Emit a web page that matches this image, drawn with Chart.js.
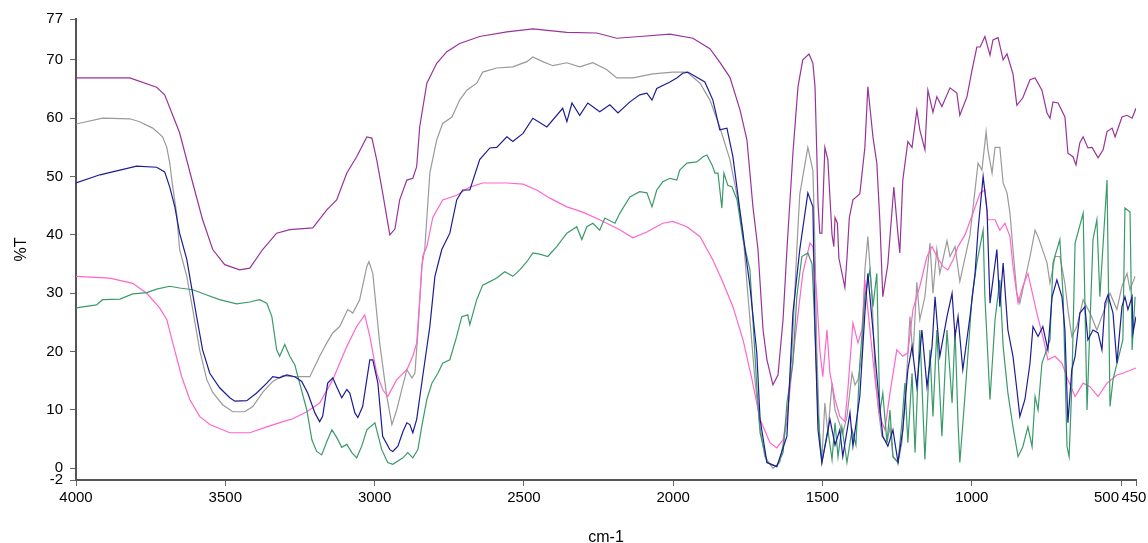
<!DOCTYPE html>
<html>
<head>
<meta charset="utf-8">
<title>IR spectra</title>
<script src="https://cdn.jsdelivr.net/npm/chart.js@4.4.1/dist/chart.umd.min.js"></script>
<style>
  html, body { margin: 0; padding: 0; background: #fff; }
  #wrap { width: 1148px; height: 543px; }
</style>
</head>
<body>
<div id="wrap"><canvas id="chart" width="1148" height="543"></canvas></div>
<script>
// tick labels
const xTicks = [4000, 3500, 3000, 2500, 2000, 1500, 1000, 500, 450];
const yTicks = [-2, 0, 10, 20, 30, 40, 50, 60, 70, 77];

// purple spectrum (wavenumber, %T)
const purpleWn = [4000,3820,3730,3703,3653,3609,3576,3542,3502,3452,3418,3375,3328,3284,3207,3160,3127,3093,3060,3026,3009,2993,2973,2949,2932,2916,2892,2872,2859,2849,2825,2792,2758,2715,2648,2557,2470,2356,2256,2189,2112,2011,1934,1877,1844,1810,1776,1753,1733,1716,1699,1686,1666,1649,1632,1619,1599,1582,1566,1545,1532,1525,1519,1515,1509,1502,1492,1482,1468,1462,1458,1450,1445,1425,1418,1410,1398,1375,1358,1348,1331,1318,1308,1298,1281,1261,1247,1241,1231,1214,1200,1184,1174,1157,1147,1130,1117,1100,1073,1050,1040,1016,999,983,972,956,939,929,912,895,882,862,849,829,805,788,765,748,738,728,711,688,678,661,651,638,627,611,597,577,560,547,530,520,497,480,463,450];
const purpleT = [66.9,66.9,65.3,64,57.5,48.9,42.6,37.5,34.9,34,34.3,37.5,40.3,40.9,41.2,44.3,46,50.6,53.4,56.8,56.6,52.9,47.2,40,41,46,49.4,49.7,51.7,58.5,66,69.4,71.4,72.8,74,74.8,75.3,74.7,74.6,73.7,74,74.4,73.7,71.9,69.6,67,61.4,56.3,44.9,37.5,23.7,18.6,14.3,16,25.5,37.5,54,65.4,70,71,69.4,65.4,54,45.4,40.3,40.3,55,52.9,40,38,43,42,36,31,36,43,46,47,55,65.4,56.8,52.3,42.6,29.4,35,48.2,40,36.9,49.4,56,55,61.4,58,54.6,64.8,61,63.7,62,65.2,64.3,60.5,63.7,68.3,72.2,72.2,74,70.8,73.4,73.8,70,71,67.6,62.2,63.5,66.6,66.9,64.8,60.9,60,62.8,62.6,60.2,54,53.4,52,55.8,56.8,54.9,55,53.2,54.6,57.7,58.3,56.8,60.2,60.5,60,61.7];

// gray spectrum
const grayWn = [4000,3911,3820,3787,3743,3710,3696,3686,3676,3663,3653,3629,3609,3586,3562,3542,3509,3475,3435,3408,3375,3341,3307,3274,3217,3184,3160,3140,3117,3090,3073,3050,3026,3019,3006,2983,2959,2942,2926,2909,2892,2875,2865,2855,2842,2832,2815,2792,2772,2741,2715,2691,2658,2638,2591,2537,2490,2470,2437,2403,2356,2313,2269,2222,2189,2135,2068,2001,1954,1910,1877,1844,1810,1783,1766,1753,1743,1726,1709,1693,1666,1643,1619,1602,1586,1576,1549,1532,1525,1519,1509,1502,1492,1482,1468,1458,1432,1418,1401,1391,1381,1368,1358,1348,1334,1324,1314,1301,1284,1274,1264,1247,1234,1217,1207,1197,1184,1174,1157,1140,1130,1117,1107,1083,1073,1056,1040,1006,979,966,952,946,932,922,906,895,882,872,862,849,839,805,788,778,748,738,721,705,688,678,665,648,627,604,581,560,537,514,497,480,470,453];
const grayT = [59,60,59.9,59.4,58.3,56.8,55,52.3,48.2,43.7,37.5,32.9,27.2,20.3,15.2,13,10.9,9.7,9.7,10.6,13,14.9,15.9,15.7,15.7,19.2,21.5,23.2,24.3,27.2,26.6,28.9,34.6,35.4,33.4,21.5,12.3,7.5,10,13.5,16.9,15.5,16.3,23.2,34.6,37.5,50.6,56.3,59.1,60.2,63.1,64.8,66,67.9,68.6,68.8,69.7,70.5,69.7,69,69.5,68.8,69.5,68.3,66.9,66.9,67.6,67.9,67.9,66,63.1,58.5,52.9,46,40.3,31.7,25.5,15,7,2,0,1,8,20,37.5,47,55,51,37.5,20.3,4.4,1.5,11.2,6.1,14.6,10,6,8.9,16.3,14.3,15.2,19.2,34,39.7,29.4,16.3,10.6,5.5,4.4,7.1,2,1,4.4,17,26,19.2,31.9,25.5,29.4,38.6,30,37.5,33.4,39,36.3,38,32,40,52.3,51.1,57.7,54.6,50.6,55,55,48.9,47.2,43.7,37.5,30,28.3,36.3,40.8,39.7,35.2,31.7,36.3,36.3,31.7,27.2,22.6,24.3,28.9,26.6,23.7,26.6,30,27.2,31.2,33.4,30.6,32.9];

// navy spectrum
const blueWn = [4000,3920,3853,3797,3730,3703,3686,3669,3653,3629,3596,3576,3552,3519,3485,3468,3428,3395,3361,3341,3318,3294,3267,3244,3224,3200,3184,3174,3157,3140,3127,3110,3093,3083,3066,3056,3040,3016,3006,2989,2973,2949,2939,2922,2905,2892,2882,2872,2859,2839,2815,2798,2775,2748,2725,2705,2681,2648,2614,2591,2557,2537,2503,2470,2423,2370,2356,2339,2313,2286,2246,2212,2185,2145,2112,2088,2071,2055,2011,1988,1968,1951,1921,1894,1867,1844,1820,1800,1776,1743,1720,1709,1686,1653,1619,1599,1576,1549,1532,1525,1515,1502,1485,1475,1458,1442,1432,1408,1398,1375,1358,1348,1331,1314,1298,1281,1264,1247,1231,1214,1200,1184,1167,1150,1133,1123,1107,1083,1066,1056,1046,1030,1006,989,979,962,949,939,916,906,895,879,862,849,839,822,805,795,778,762,745,731,715,698,688,678,665,654,638,621,611,594,577,564,554,544,527,514,497,487,477,463,460,450];
const blueT = [48.9,50.3,51.1,51.8,51.6,50.8,48.2,44.8,40.3,35.8,26,20.3,16.3,13.8,12.1,11.5,11.6,12.9,14.6,15.7,15.5,16,15.7,14.9,12.9,9.5,8,8.9,14.6,15.5,14,12.1,13.5,12.9,9.5,8.7,10.6,18.6,18.6,14.6,5.5,3.2,2.9,3.8,6.3,7.8,7.5,6.1,8.4,15.7,24.3,32.9,37.5,40.3,46,47.7,47.7,52.9,54.9,55,56.8,56,57.4,60,58.5,61.7,59.4,62.6,60.5,62.6,61.1,62.3,60.9,62.8,64,64.3,63.1,65.1,66.2,66.9,67.7,67.9,67,66.2,63.1,58,58.3,53.4,44,31.2,19.8,8.4,1,0.3,5.5,26.6,37.5,47.2,44.8,23.7,6.6,1,5.5,8.4,4,6.6,2,9.5,3.8,12.3,26.6,33.4,23.7,13.5,5.5,3.8,6.6,1,6.6,16.9,20.9,14,23.7,14,20.9,29.4,19.2,26,30,22.6,26,16.9,26,33.4,40.8,50,44.3,28.3,37.5,27.7,35.2,23.7,19.2,13.5,8.9,11.8,18,24.3,22.6,24.3,20.3,29.4,32.3,29.4,23.7,7.8,16.9,19.2,26.6,27.7,22,23.7,23.2,20.3,28.3,29.7,26.6,18,27.7,29.4,27.2,29.4,23.2,26];

// pink spectrum
const pinkWn = [4000,3887,3810,3763,3720,3696,3676,3646,3619,3586,3552,3485,3418,3361,3307,3274,3227,3184,3140,3093,3060,3033,3016,2993,2973,2956,2926,2892,2872,2859,2849,2839,2825,2805,2772,2725,2681,2638,2557,2503,2457,2413,2356,2303,2246,2179,2135,2088,2035,2001,1954,1910,1867,1837,1800,1766,1736,1709,1676,1653,1632,1616,1592,1566,1542,1532,1519,1509,1499,1485,1475,1458,1442,1425,1415,1398,1381,1368,1358,1341,1324,1308,1291,1274,1251,1231,1214,1197,1174,1150,1133,1117,1097,1080,1063,1046,1023,996,972,956,946,922,906,889,872,862,845,829,812,782,762,745,721,698,678,654,627,604,577,547,514,494,450];
const pinkT = [32.9,32.6,31.7,30,27.5,25.5,21.5,15.7,11.8,8.9,7.5,6.1,6.1,7.1,8,8.5,9.7,11.2,15.2,20.9,24.3,26.3,22.6,16.3,13.5,12.3,15.2,16.9,19.2,21.5,28.9,36.3,38,43,46,46.8,48.2,48.9,48.9,48.7,47.7,46.3,44.8,43.9,42.6,40.9,39.5,40.5,42,42.3,41.4,39.7,35.7,32.3,27.7,22,15.2,8.4,4.4,3.5,4.9,10,22,33.4,38.6,38,29.4,20.3,15.7,23.7,16.3,11.8,8.9,8,13.5,24.9,21.5,23.7,32.3,23.7,15.2,8.9,6.6,12.9,20.3,19.2,19.8,27.2,31.2,36.3,38,36.3,34.6,34,35.7,38,40,43.7,47.2,47.7,42.6,42.6,40.8,42,39.7,34.6,28.3,31.2,33.4,26.6,22.6,18.6,19.2,18,15.2,12.3,14.6,14,12.3,14.6,16,16.3,17.2];

// green spectrum
const greenWn = [4000,3931,3911,3853,3810,3763,3730,3686,3653,3609,3562,3519,3462,3418,3385,3361,3344,3328,3318,3301,3284,3267,3251,3227,3210,3194,3177,3160,3143,3127,3110,3093,3076,3060,3043,3026,2999,2976,2956,2939,2905,2889,2872,2855,2842,2825,2808,2788,2772,2748,2725,2708,2688,2681,2658,2638,2614,2591,2564,2537,2514,2490,2470,2447,2420,2390,2356,2323,2306,2289,2269,2246,2229,2195,2179,2145,2112,2088,2071,2055,2035,2011,1988,1978,1954,1921,1900,1887,1870,1860,1850,1837,1830,1817,1803,1786,1766,1743,1733,1720,1709,1686,1653,1632,1619,1599,1586,1569,1549,1535,1525,1515,1502,1492,1482,1468,1458,1448,1435,1418,1401,1388,1375,1358,1341,1331,1318,1308,1298,1284,1274,1264,1247,1234,1224,1214,1200,1190,1174,1157,1140,1130,1117,1100,1083,1066,1056,1046,1040,1023,999,983,962,956,939,922,906,895,879,862,845,829,812,798,788,778,765,738,728,705,694,681,674,665,654,627,614,604,594,581,571,547,537,527,494,487,470,463,453];
const greenT = [27.5,28,28.9,29,29.9,30.1,30.7,31.2,30.9,30.6,29.7,28.9,28.2,28.5,28.9,28.3,26,20.3,19.2,21.2,19.2,17.7,14.6,10,4.9,2.9,2.3,4.6,6.6,5.3,3.6,4.1,2.7,1.8,3.8,6.6,7.8,3.2,1,0.7,1.8,2.7,1.8,3.2,7.2,11.8,14.6,16.3,18,18.6,22.6,26,26.3,24.6,28.9,31.4,32,32.6,33.7,32.9,34,35.4,36.9,36.7,36.3,38,40.3,41.4,39.2,41.4,42,40.8,42.9,42,43.7,46.5,47.4,47.2,44.8,47.7,49.1,49.7,49.4,51.1,52.3,52.5,53.4,53.7,52,50.6,50.6,44.6,50.6,48.5,48.2,46,39.2,34,25.5,14,6.1,1,0.3,2.7,11.2,18,29.4,36.3,36.9,35,23.7,9.5,1,3.8,6.6,1.5,7.8,2,7.1,1,6.6,4,18,29.4,34,27.7,33.4,9.5,12.9,4.4,10,2,1,7.8,14.6,4.4,16.3,2.7,23.7,1.5,20.3,8.9,23.7,5.5,23.7,11.2,23.7,7.8,1,12.3,29.4,35.2,40.8,29.4,11.8,25.5,32.3,20.9,12.9,7.1,2,3.7,7.1,3.7,12.3,10,18,22,35.2,39.2,29.4,3.7,2,14,38.6,43.7,10,24.9,39.2,42.6,29.4,49.4,10.6,15.2,22,44.6,43.9,20.3,29.4];

const toPoints = (wn, t) => wn.map((x, i) => ({ x: x, y: t[i] }));

const line = (label, wn, t, color) => ({
  label: label,
  data: toPoints(wn, t),
  borderColor: color,
  borderWidth: 1.2,
  pointRadius: 0,
  tension: 0,
  fill: false
});

const font = { family: "'Liberation Sans', Arial, sans-serif", size: 15 };

// 500 and 450 sit close together: nudge both labels left so they read "500450"
const xLabel = (v) => {
  if (v === 500) return '500' + '       ';
  if (v === 450) return '450 ';
  return String(v);
};

new Chart(document.getElementById('chart').getContext('2d'), {
  type: 'line',
  data: {
    datasets: [
      line('navy', blueWn, blueT, '#1c1c94'),
      line('green', greenWn, greenT, '#3a9a6a'),
      line('pink', pinkWn, pinkT, '#ff66cc'),
      line('gray', grayWn, grayT, '#9a9a9a'),
      line('purple', purpleWn, purpleT, '#993399')
    ]
  },
  options: {
    responsive: false,
    animation: false,
    events: [],
    layout: { padding: { top: 19, right: 12, left: 0, bottom: 0 } },
    plugins: {
      legend: { display: false },
      tooltip: { enabled: false }
    },
    scales: {
      x: {
        type: 'linear',
        reverse: true,
        min: 450,
        max: 4000,
        afterBuildTicks: (scale) => { scale.ticks = xTicks.map(v => ({ value: v })); },
        afterFit: (scale) => {
          scale.height = 63;
          scale.paddingRight = 0;
          scale.paddingLeft = 0;
        },
        ticks: {
          autoSkip: false,
          maxRotation: 0,
          padding: 3,
          color: '#000',
          font: font,
          callback: xLabel
        },
        grid: { drawOnChartArea: false, drawTicks: true, tickLength: 6, color: '#666' },
        border: { color: '#555', width: 2 },
        title: {
          display: true,
          text: 'cm-1',
          color: '#000',
          font: { family: font.family, size: 16, lineHeight: 1 },
          padding: { top: 0, bottom: -3 }
        }
      },
      y: {
        min: -2,
        max: 77,
        afterBuildTicks: (scale) => { scale.ticks = yTicks.map(v => ({ value: v })); },
        afterFit: (scale) => { scale.width = 76; },
        ticks: {
          autoSkip: false,
          padding: 7,
          color: '#000',
          font: font,
          callback: (v) => String(v)
        },
        grid: { drawOnChartArea: false, drawTicks: true, tickLength: 6, color: '#666' },
        border: { color: '#555', width: 2 },
        title: {
          display: true,
          text: '%T',
          color: '#000',
          font: { family: font.family, size: 16, lineHeight: 1 },
          padding: { top: 14, bottom: 0 }
        }
      }
    }
  }
});
</script>
</body>
</html>
